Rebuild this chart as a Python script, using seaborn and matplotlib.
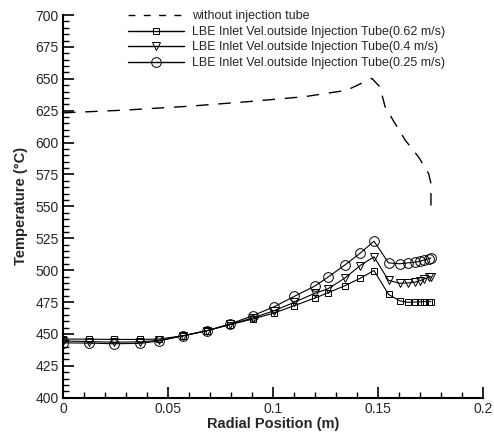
import matplotlib
matplotlib.use("Agg")
import matplotlib.pyplot as plt
from matplotlib.ticker import MultipleLocator, FuncFormatter
import pandas as pd
import seaborn as sns

# Radial temperature profile without the injection tube
x_no_tube = [0.0, 0.03, 0.06, 0.0875, 0.115, 0.135, 0.147, 0.1508, 0.1533,
             0.158, 0.1629, 0.1692, 0.174, 0.1751, 0.1751]
t_no_tube = [623.3, 625.5, 628.5, 632.0, 636.0, 641.0, 650.3, 643.7, 628.0,
             615.0, 601.8, 588.7, 575.6, 568.0, 543.0]

# Radial positions of the LBE profiles (shared by all three inlet velocities)
x_lbe = [0.0, 0.0125, 0.0244, 0.0367, 0.0457, 0.0573, 0.0684, 0.0795, 0.0903,
         0.1006, 0.1101, 0.1197, 0.126, 0.1343, 0.1414, 0.148, 0.1549, 0.1602,
         0.164, 0.1673, 0.170, 0.172, 0.174, 0.1751]

t_062 = [446.0, 445.9, 445.7, 445.7, 446.0, 448.6, 452.5, 457.3, 461.7,
         466.5, 472.2, 478.0, 482.2, 487.9, 493.6, 499.7, 481.0, 476.0,
         474.8, 475.0, 475.2, 475.3, 475.3, 475.4]
t_040 = [444.5, 444.0, 443.5, 443.8, 445.0, 448.6, 452.5, 457.5, 462.5,
         468.3, 474.8, 481.8, 485.3, 494.0, 503.6, 510.5, 492.0, 489.7,
         490.0, 490.5, 491.8, 493.2, 494.4, 495.0]
t_025 = [443.0, 442.8, 442.3, 442.6, 444.5, 448.6, 452.5, 457.8, 464.3,
         471.4, 479.5, 487.4, 494.4, 504.2, 513.3, 522.7, 505.7, 505.0,
         505.7, 506.2, 507.0, 508.1, 508.9, 509.5]

labels = ["without injection tube",
          "LBE Inlet Vel.outside Injection Tube(0.62 m/s)",
          "LBE Inlet Vel.outside Injection Tube(0.4 m/s)",
          "LBE Inlet Vel.outside Injection Tube(0.25 m/s)"]

sns.set_style("ticks")
plt.rcParams["font.family"] = ["Liberation Sans", "DejaVu Sans"]

fig = plt.figure(figsize=(4.94, 4.34), dpi=100)
ax = fig.add_axes([0.1275, 0.0836, 0.8508, 0.8818])

df0 = pd.DataFrame({"x": x_no_tube, "t": t_no_tube})
sns.lineplot(data=df0, x="x", y="t", ax=ax, sort=False, estimator=None,
             color="black", lw=1.0, dashes=False, label=labels[0])
ax.lines[-1].set_dashes([9, 7])

for temps, marker, ms, lab in [(t_062, "s", 5, labels[1]),
                               (t_040, "v", 6, labels[2]),
                               (t_025, "o", 7, labels[3])]:
    d = pd.DataFrame({"x": x_lbe, "t": temps})
    sns.lineplot(data=d, x="x", y="t", ax=ax, sort=False, estimator=None,
                 color="black", lw=0.8, marker=marker, markersize=ms,
                 markerfacecolor="none", markeredgecolor="black",
                 markeredgewidth=0.7, label=lab)

ax.set_xlim(0, 0.2)
ax.set_ylim(400, 700)
ax.xaxis.set_major_locator(MultipleLocator(0.05))
ax.xaxis.set_minor_locator(MultipleLocator(0.01))
ax.yaxis.set_major_locator(MultipleLocator(25))
ax.yaxis.set_minor_locator(MultipleLocator(5))
ax.xaxis.set_major_formatter(FuncFormatter(lambda v, p: "%g" % round(v, 3)))

ax.tick_params(which="major", direction="in", length=8, width=1.2,
               labelsize=10, pad=3, color="black")
ax.tick_params(which="minor", direction="in", length=4, width=1.0,
               color="black")
for s in ["top", "right"]:
    ax.spines[s].set_visible(False)
for s in ["left", "bottom"]:
    ax.spines[s].set_linewidth(1.5)
    ax.spines[s].set_color("black")

ax.set_xlabel("Radial Position (m)", fontsize=10.5, fontweight="bold", labelpad=1)
ax.set_ylabel("Temperature (°C)", fontsize=10.5, fontweight="bold", labelpad=5)

leg = ax.legend(loc="upper left", bbox_to_anchor=(0.143, 1.025), frameon=False,
                fontsize=9, handlelength=4.5, handletextpad=0.6,
                labelspacing=0.28, borderaxespad=0)
for h in leg.get_lines():
    h.set_linewidth(1.0)
leg.get_lines()[0].set_dashes([5, 6])

fig.savefig("out.png", dpi=100)
